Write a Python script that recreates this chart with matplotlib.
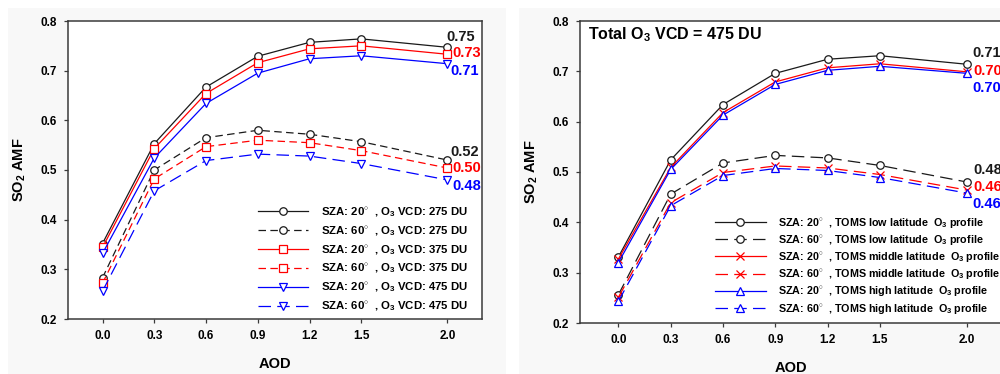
import matplotlib
matplotlib.use("Agg")
import matplotlib.pyplot as plt
from matplotlib.patches import Rectangle

plt.rcParams["font.family"] = ["Liberation Sans", "DejaVu Sans"]
plt.rcParams["font.weight"] = "bold"
plt.rcParams["mathtext.fontset"] = "custom"
plt.rcParams["mathtext.rm"] = "Liberation Sans:bold"
plt.rcParams["mathtext.bf"] = "Liberation Sans:bold"
plt.rcParams["mathtext.it"] = "Liberation Sans:bold"
plt.rcParams["mathtext.default"] = "bf"

# ---- data ----
aod = [0.0, 0.3, 0.6, 0.9, 1.2, 1.5, 2.0]
aod_ticks = ["0.0", "0.3", "0.6", "0.9", "1.2", "1.5", "2.0"]
amf_ticks = [0.2, 0.3, 0.4, 0.5, 0.6, 0.7, 0.8]

# left panel: total O3 VCD dependence
vcd275_sza20 = [0.352, 0.553, 0.667, 0.729, 0.757, 0.764, 0.747]
vcd275_sza60 = [0.283, 0.500, 0.565, 0.580, 0.572, 0.557, 0.520]
vcd375_sza20 = [0.344, 0.543, 0.654, 0.716, 0.744, 0.750, 0.733]
vcd375_sza60 = [0.272, 0.482, 0.547, 0.560, 0.555, 0.539, 0.504]
vcd475_sza20 = [0.332, 0.524, 0.634, 0.695, 0.724, 0.730, 0.714]
vcd475_sza60 = [0.256, 0.458, 0.519, 0.532, 0.528, 0.513, 0.480]

# right panel: TOMS O3 profile dependence (total O3 VCD = 475 DU)
low_sza20 = [0.331, 0.524, 0.634, 0.696, 0.724, 0.731, 0.714]
low_sza60 = [0.256, 0.456, 0.518, 0.533, 0.528, 0.513, 0.480]
mid_sza20 = [0.327, 0.509, 0.618, 0.679, 0.707, 0.715, 0.699]
mid_sza60 = [0.251, 0.439, 0.499, 0.512, 0.508, 0.495, 0.464]
high_sza20 = [0.320, 0.505, 0.613, 0.674, 0.702, 0.710, 0.696]
high_sza60 = [0.243, 0.433, 0.493, 0.507, 0.503, 0.489, 0.458]

BLACK = "#1a1a1a"
RED = "#ff0000"
BLUE = "#0000ff"
SPINE = "#3a3a3a"

left_series = [
    (vcd275_sza20, BLACK, "o", None, r"SZA: 20$^{\circ}$  , O$_3$ VCD: 275 DU", (-1, 10)),
    (vcd275_sza60, BLACK, "o", (6, 3.5), r"SZA: 60$^{\circ}$  , O$_3$ VCD: 275 DU", (3, 8)),
    (vcd375_sza20, RED, "s", None, r"SZA: 20$^{\circ}$  , O$_3$ VCD: 375 DU", (5, 1)),
    (vcd375_sza60, RED, "s", (6, 3.5), r"SZA: 60$^{\circ}$  , O$_3$ VCD: 375 DU", (5, 0)),
    (vcd475_sza20, BLUE, "v", None, r"SZA: 20$^{\circ}$  , O$_3$ VCD: 475 DU", (3, -7)),
    (vcd475_sza60, BLUE, "v", (10, 5), r"SZA: 60$^{\circ}$  , O$_3$ VCD: 475 DU", (5, -6)),
]

right_series = [
    (low_sza20, BLACK, "o", None, r"SZA: 20$^{\circ}$  , TOMS low latitude  O$_3$ profile", (5, 11)),
    (low_sza60, BLACK, "o", (10, 5), r"SZA: 60$^{\circ}$  , TOMS low latitude  O$_3$ profile", (6, 12)),
    (mid_sza20, RED, "x", None, r"SZA: 20$^{\circ}$  , TOMS middle latitude  O$_3$ profile", (6, 1)),
    (mid_sza60, RED, "x", (10, 5), r"SZA: 60$^{\circ}$  , TOMS middle latitude  O$_3$ profile", (6, 3)),
    (high_sza20, BLUE, "^", None, r"SZA: 20$^{\circ}$  , TOMS high latitude  O$_3$ profile", (5, -15)),
    (high_sza60, BLUE, "^", (10, 5), r"SZA: 60$^{\circ}$  , TOMS high latitude  O$_3$ profile", (5, -11)),
]

W, H = 1000, 374
fig = plt.figure(figsize=(W / 100, H / 100), dpi=100)

# faint panel backgrounds
fig.patches.append(Rectangle((8 / W, 0), (506 - 8) / W, (H - 8) / H, transform=fig.transFigure,
                             facecolor="#f8f8f8", edgecolor="none", zorder=-10))
fig.patches.append(Rectangle((519 / W, 0), (W - 519) / W, (H - 8) / H, transform=fig.transFigure,
                             facecolor="#f8f8f8", edgecolor="none", zorder=-10))

ax1 = fig.add_axes([68 / W, 1 - 319 / H, (482 - 68) / W, (319 - 21) / H])
ax2 = fig.add_axes([580 / W, 1 - 323 / H, 422 / W, (323 - 21) / H])


def draw_panel(ax, series, xlim, leg_anchor, leg_size, leg_spacing, hlen, hpad):
    for vals, color, marker, dashes, label, off in series:
        kw = dict(color=color, lw=0.9, marker=marker, markersize=5.4,
                  markeredgewidth=0.9, label=label)
        if marker != "x":
            kw["markerfacecolor"] = "white"
        line, = ax.plot(aod, vals, **kw)
        if dashes is not None:
            line.set_dashes(dashes)
        ax.annotate(f"{vals[-1]:.2f}", xy=(aod[-1], vals[-1]),
                    xytext=(off[0] * 0.72, off[1] * 0.72), textcoords="offset points",
                    ha="left", va="center", fontsize=10.5, fontweight="bold",
                    color=color, annotation_clip=False, clip_on=False)
    ax.set_xlim(*xlim)
    ax.set_ylim(0.2, 0.8)
    ax.set_xticks(aod)
    ax.set_xticklabels(aod_ticks)
    ax.set_yticks(amf_ticks)
    ax.set_yticklabels([f"{t:.1f}" for t in amf_ticks])
    ax.tick_params(direction="out", length=3, width=0.9, color=SPINE,
                   labelsize=8.5, pad=5)
    for lab in ax.get_xticklabels() + ax.get_yticklabels():
        lab.set_fontweight("bold")
    for sp in ax.spines.values():
        sp.set_color(SPINE)
        sp.set_linewidth(1.1)
    ax.set_xlabel("AOD", fontsize=10.5, fontweight="bold", labelpad=11)
    ax.set_ylabel(r"SO$_2$ AMF", fontsize=10.5, fontweight="bold", labelpad=9)
    ax.legend(loc="upper left", bbox_to_anchor=leg_anchor, bbox_transform=fig.transFigure,
              frameon=False, fontsize=leg_size, handlelength=hlen, handletextpad=hpad,
              labelspacing=leg_spacing, borderpad=0, borderaxespad=0)


draw_panel(ax1, left_series, (-0.2, 2.2), (258 / W, 1 - 205 / H), 8.2, 0.47, 4.4, 1.15)
draw_panel(ax2, right_series, (-0.22, 2.2), (715 / W, 1 - 216 / H), 7.75, 0.29, 4.7, 1.12)

ax2.text(8 / 422, 1 - 14 / 302, r"Total O$_3$ VCD = 475 DU", transform=ax2.transAxes,
         ha="left", va="center", fontsize=11.5, fontweight="bold", color="black")

fig.savefig("out.png", dpi=100, facecolor="white")
